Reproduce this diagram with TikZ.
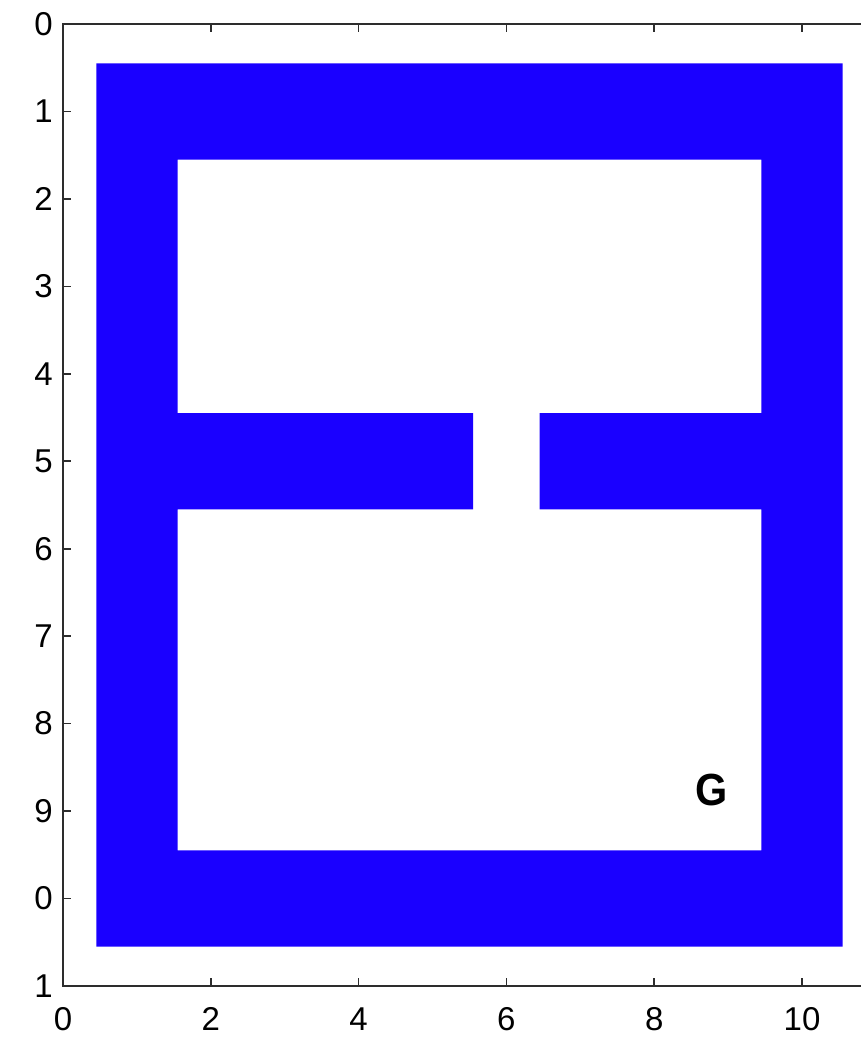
\documentclass[tikz,border=0pt]{standalone}
\usepackage{fontspec}
\setmainfont{Liberation Sans}
\definecolor{shapeblue}{RGB}{26,0,255}
\definecolor{axisgray}{RGB}{45,45,45}
\tikzset{
  blueshape/.style={fill=shapeblue, draw=none},
  axisline/.style={draw=axisgray, line width=2.2pt},
  tickmark/.style={draw=axisgray, line width=1.6pt},
  ticklabel/.style={font=\fontsize{33}{36}\selectfont, text=black, inner sep=0pt},
  letterlabel/.style={font=\fontsize{45}{50}\selectfont\bfseries, text=black, inner sep=0pt, xscale=0.92}
}
\begin{document}
\begin{tikzpicture}[x=1pt,y=1pt]
\useasboundingbox (0,0) rectangle (861,-1037);
\begin{scope}[shift={(63,-24)}, x=73.9pt, y=-87.45pt]
  % shape as one path with a single hole
  \fill[blueshape, even odd rule] (0.45,0.45) rectangle (10.55,10.55)
    (1.55,1.55) -- (9.45,1.55) -- (9.45,4.45) -- (6.45,4.45) -- (6.45,5.55)
    -- (9.45,5.55) -- (9.45,9.45) -- (1.55,9.45) -- (1.55,5.55) -- (5.55,5.55)
    -- (5.55,4.45) -- (1.55,4.45) -- cycle;
  % axes
  \draw[axisline] (10.9,0) -- (0,0) -- (0,11) -- (10.9,11);
  \foreach \y in {1,...,10} \draw[tickmark] (0,\y) -- ++(8pt,0);
  \foreach \x in {2,4,6,8,10} {
    \draw[tickmark] (\x,11) -- ++(0,8pt);
    \draw[tickmark] (\x,0) -- ++(0,-8pt);
  }
  % y labels
  \foreach \y/\l in {0/0,1/1,2/2,3/3,4/4,5/5,6/6,7/7,8/8,9/9,10/0,11/1}
    \node[ticklabel, anchor=east] (yl\y) at ([xshift=-10pt]0,\y) {\l};
  % x labels
  \foreach \x in {0,2,4,6,8,10}
    \node[ticklabel] (xl\x) at ([yshift=-33pt]\x,11) {\x};
  \node[letterlabel] (G) at (8.77,8.76) {G};
\end{scope}
\end{tikzpicture}
\end{document}
